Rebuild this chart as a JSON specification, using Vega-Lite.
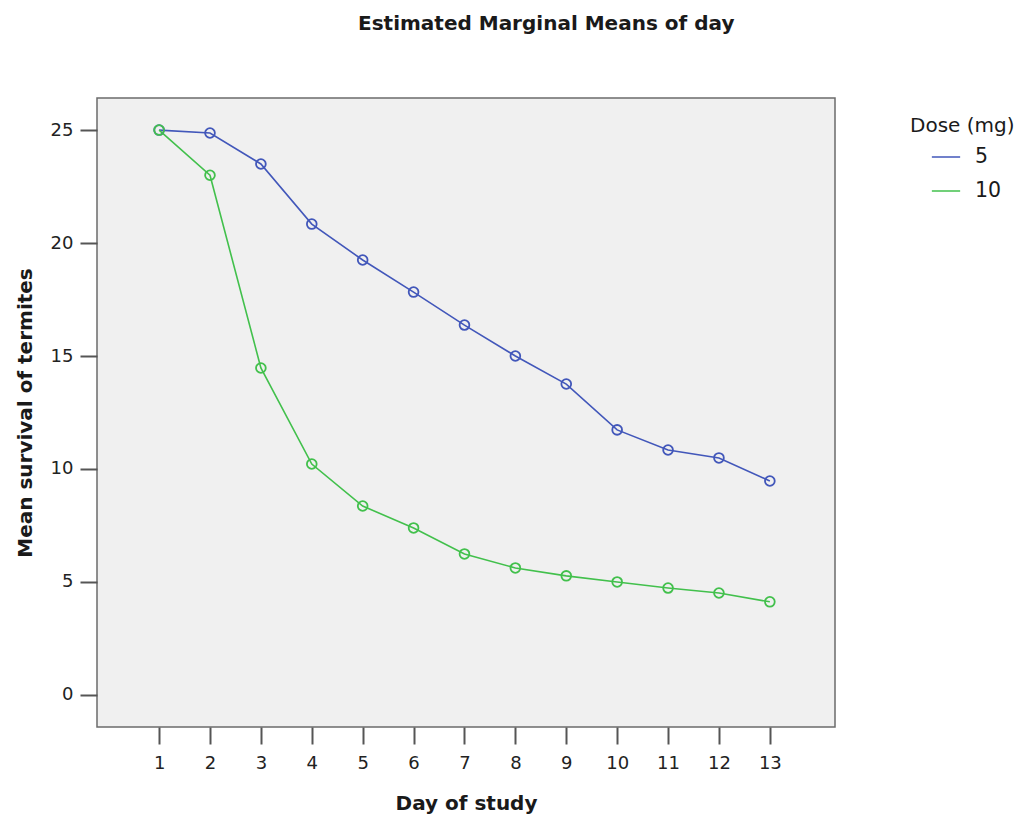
{
  "$schema": "https://vega.github.io/schema/vega-lite/v6.json",
  "autosize": "none",
  "width": 738,
  "height": 629,
  "padding": {"left": 97, "top": 98, "right": 186, "bottom": 87},
  "background": "#ffffff",
  "config": {
    "font": "DejaVu Sans",
    "view": {"fill": "#f0f0f0", "stroke": "#6b6b6b", "strokeWidth": 1.5}
  },
  "title": {
    "text": "Estimated Marginal Means of day",
    "anchor": "start",
    "frame": "group",
    "dx": 261,
    "offset": 64,
    "fontSize": 20,
    "fontWeight": "bold",
    "font": "DejaVu Sans",
    "color": "#1a1a1a"
  },
  "data": {
    "values": [
      {"day": 1, "dose": "5", "mean": 25.0},
      {"day": 2, "dose": "5", "mean": 24.87},
      {"day": 3, "dose": "5", "mean": 23.5},
      {"day": 4, "dose": "5", "mean": 20.84},
      {"day": 5, "dose": "5", "mean": 19.25},
      {"day": 6, "dose": "5", "mean": 17.83},
      {"day": 7, "dose": "5", "mean": 16.37},
      {"day": 8, "dose": "5", "mean": 15.0},
      {"day": 9, "dose": "5", "mean": 13.76},
      {"day": 10, "dose": "5", "mean": 11.73},
      {"day": 11, "dose": "5", "mean": 10.84},
      {"day": 12, "dose": "5", "mean": 10.49},
      {"day": 13, "dose": "5", "mean": 9.47},
      {"day": 1, "dose": "10", "mean": 25.0},
      {"day": 2, "dose": "10", "mean": 23.0},
      {"day": 3, "dose": "10", "mean": 14.47},
      {"day": 4, "dose": "10", "mean": 10.22},
      {"day": 5, "dose": "10", "mean": 8.36},
      {"day": 6, "dose": "10", "mean": 7.39},
      {"day": 7, "dose": "10", "mean": 6.24},
      {"day": 8, "dose": "10", "mean": 5.62},
      {"day": 9, "dose": "10", "mean": 5.27},
      {"day": 10, "dose": "10", "mean": 5.0},
      {"day": 11, "dose": "10", "mean": 4.73},
      {"day": 12, "dose": "10", "mean": 4.51},
      {"day": 13, "dose": "10", "mean": 4.12}
    ]
  },
  "encoding": {
    "x": {
      "field": "day",
      "type": "quantitative",
      "scale": {"domain": [-0.22, 14.28], "nice": false, "zero": false},
      "axis": {
        "title": "Day of study",
        "values": [1, 2, 3, 4, 5, 6, 7, 8, 9, 10, 11, 12, 13],
        "grid": false,
        "domain": false,
        "tickSize": 17,
        "tickWidth": 2,
        "tickColor": "#555555",
        "labelPadding": 10,
        "labelFontSize": 18,
        "labelColor": "#222222",
        "labelFont": "DejaVu Sans",
        "titleFontSize": 20,
        "titleFontWeight": "bold",
        "titleColor": "#1a1a1a",
        "titlePadding": 21
      }
    },
    "y": {
      "field": "mean",
      "type": "quantitative",
      "scale": {"domain": [-1.42, 26.42], "nice": false, "zero": false},
      "axis": {
        "title": "Mean survival of termites",
        "values": [0, 5, 10, 15, 20, 25],
        "grid": false,
        "domain": false,
        "tickSize": 17,
        "tickWidth": 2,
        "tickColor": "#555555",
        "labelPadding": 7,
        "labelFontSize": 18,
        "labelColor": "#222222",
        "titleFontSize": 20,
        "titleFontWeight": "bold",
        "titleColor": "#1a1a1a",
        "titlePadding": 15
      }
    },
    "color": {
      "field": "dose",
      "type": "nominal",
      "sort": ["5", "10"],
      "scale": {"domain": ["5", "10"], "range": ["#4257ba", "#42c04c"]},
      "legend": {
        "title": "Dose (mg)",
        "orient": "none",
        "legendX": 813,
        "legendY": 18,
        "symbolType": "stroke",
        "symbolSize": 800,
        "symbolStrokeWidth": 1.5,
        "symbolOffset": 21,
        "titleFontSize": 20,
        "titleFontWeight": "normal",
        "titleColor": "#1a1a1a",
        "labelFontSize": 20.5,
        "labelColor": "#1a1a1a",
        "labelOffset": 14,
        "rowPadding": 8,
        "titlePadding": 6,
        "offset": 0
      }
    }
  },
  "layer": [
    {"mark": {"type": "line", "strokeWidth": 1.6}},
    {"mark": {"type": "point", "filled": false, "size": 95, "strokeWidth": 1.8, "opacity": 1}}
  ]
}
